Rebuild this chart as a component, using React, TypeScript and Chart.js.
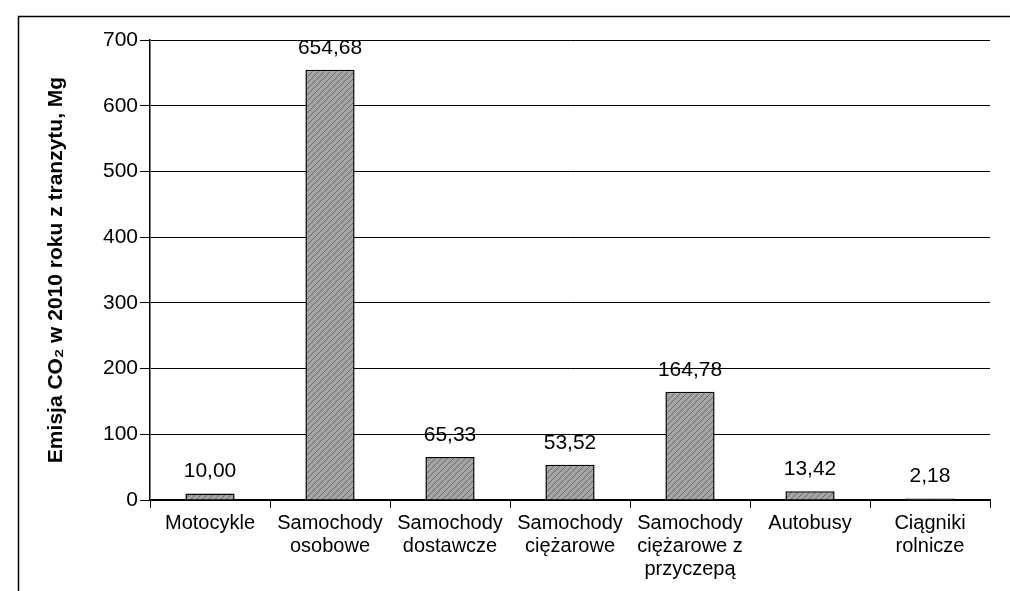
import React, { useEffect, useRef } from "react";
import { Chart, registerables } from "chart.js";

Chart.register(...registerables);

const categories: string[][] = [
  ["Motocykle"],
  ["Samochody", "osobowe"],
  ["Samochody", "dostawcze"],
  ["Samochody", "ciężarowe"],
  ["Samochody", "ciężarowe z", "przyczepą"],
  ["Autobusy"],
  ["Ciągniki", "rolnicze"],
];
const emissions: number[] = [10.0, 654.68, 65.33, 53.52, 164.78, 13.42, 2.18];
const yTicks: number[] = [0, 100, 200, 300, 400, 500, 600, 700];
const yTitle = "Emisja CO₂ w 2010 roku z tranzytu, Mg";

const FONT = "'Liberation Sans', Arial, sans-serif";

function makePattern(): CanvasPattern | string {
  const c = document.createElement("canvas");
  c.width = 6;
  c.height = 6;
  const g = c.getContext("2d");
  if (!g) return "#8e8e8e";
  g.fillStyle = "#a4a4a4";
  g.fillRect(0, 0, 6, 6);
  g.strokeStyle = "#6a6a6a";
  g.lineWidth = 1;
  g.beginPath();
  g.moveTo(0, 6);
  g.lineTo(6, 0);
  g.moveTo(-3, 3);
  g.lineTo(3, -3);
  g.moveTo(3, 9);
  g.lineTo(9, 3);
  g.stroke();
  const p = g.createPattern(c, "repeat");
  return p || "#8e8e8e";
}

const valueLabels = {
  id: "valueLabels",
  afterDatasetsDraw(chart: any) {
    const ctx = chart.ctx;
    const meta = chart.getDatasetMeta(0);
    ctx.save();
    ctx.font = `21px ${FONT}`;
    ctx.fillStyle = "#000";
    ctx.textAlign = "center";
    ctx.textBaseline = "middle";
    meta.data.forEach((bar: any, i: number) => {
      const v = emissions[i];
      ctx.fillText(v.toFixed(2).replace(".", ","), bar.x, bar.y - 22);
    });
    ctx.restore();
  },
};

const frame = {
  id: "frame",
  beforeDraw(chart: any) {
    const ctx = chart.ctx;
    ctx.save();
    ctx.fillStyle = "#fff";
    ctx.fillRect(0, 0, chart.width, chart.height);
    ctx.strokeStyle = "#000";
    ctx.lineWidth = 1.5;
    ctx.beginPath();
    ctx.moveTo(18.5, chart.height);
    ctx.lineTo(18.5, 16.5);
    ctx.lineTo(chart.width, 16.5);
    ctx.stroke();
    ctx.restore();
  },
};

export default function App() {
  const ref = useRef<HTMLCanvasElement | null>(null);
  useEffect(() => {
    if (!ref.current) return;
    const chart = new Chart(ref.current, {
      type: "bar",
      data: {
        labels: categories,
        datasets: [
          {
            data: emissions,
            backgroundColor: makePattern() as any,
            borderColor: "#000",
            borderWidth: 1.5,
            barPercentage: 0.41,
            categoryPercentage: 1,
          },
        ],
      },
      options: {
        animation: false,
        responsive: false,
        maintainAspectRatio: false,
        layout: { padding: { left: 0, right: 20, top: 40, bottom: 0 } },
        plugins: {
          legend: { display: false },
          tooltip: { enabled: false },
        },
        scales: {
          x: {
            grid: {
              display: true,
              drawOnChartArea: false,
              drawTicks: true,
              tickLength: 8,
              offset: true,
              color: "#000",
            },
            border: { display: true, color: "#000", width: 1.5 },
            ticks: {
              color: "#000",
              font: { family: FONT, size: 20, lineHeight: 1.15 },
              padding: 4,
              maxRotation: 0,
              autoSkip: false,
            },
            afterFit(scale: any) {
              scale.height = 91;
            },
          },
          y: {
            min: 0,
            max: 700,
            afterBuildTicks(scale: any) {
              scale.ticks = yTicks.map((v) => ({ value: v }));
            },
            grid: {
              color: "#000",
              lineWidth: 1,
              drawTicks: true,
              tickLength: 10,
            },
            border: { display: true, color: "#000", width: 1.5 },
            ticks: {
              color: "#000",
              font: { family: FONT, size: 21 },
              padding: 2,
            },
            title: {
              display: true,
              text: yTitle,
              color: "#000",
              font: { family: FONT, size: 21, weight: "bold" },
              padding: { top: 44, bottom: 0 },
            },
            afterFit(scale: any) {
              scale.width = 150;
            },
          },
        },
      },
      plugins: [frame, valueLabels],
    });
    return () => chart.destroy();
  }, []);
  return (
    <div style={{ position: "absolute", left: 0, top: 0, width: 1010, height: 591 }}>
      <canvas ref={ref} width={1010} height={591} style={{ display: "block" }} />
    </div>
  );
}
